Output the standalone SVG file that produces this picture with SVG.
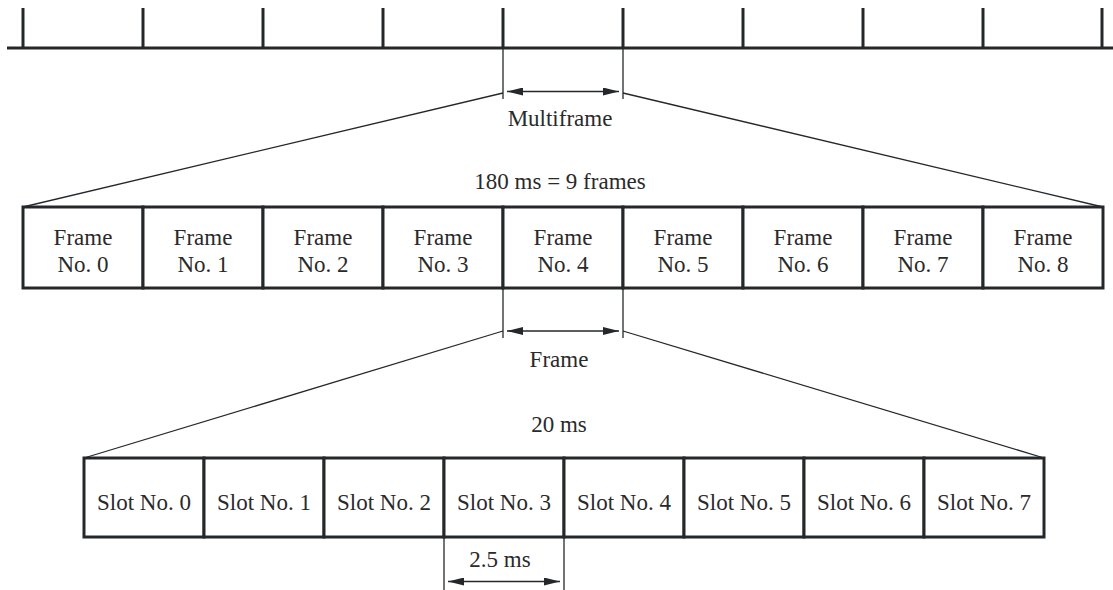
<svg xmlns="http://www.w3.org/2000/svg" width="1113" height="590" viewBox="0 0 1113 590">
<defs>
<marker id="ah" viewBox="0 0 16 8" refX="16" refY="4" markerWidth="16" markerHeight="8" markerUnits="userSpaceOnUse" orient="auto-start-reverse">
<path d="M0,0 L16,4 L0,8 Z" fill="#25282b"/>
</marker>
<style>
.thick{stroke:#25282b;stroke-width:3;fill:none}
.box{stroke:#25282b;stroke-width:3;fill:#fff}
.thin{stroke:#25282b;stroke-width:1.3;fill:none}
.dim{stroke:#25282b;stroke-width:1.3;fill:none;marker-start:url(#ah);marker-end:url(#ah)}
text{font-family:"Liberation Serif","Times New Roman",serif;font-size:23px;fill:#2a2a2a;text-anchor:middle}
</style>
</defs>
<rect width="1113" height="590" fill="#fff"/>
<g id="timeline">
<line class="thick" x1="7" y1="48" x2="1113" y2="48"/>
<path class="thick" d="M23,8V48M143,8V48M263,8V48M383,8V48M503,8V48M623,8V48M743,8V48M863,8V48M983,8V48M1102,8V48"/>
</g>
<g id="connectors">
<line class="thin" x1="503" y1="48" x2="503" y2="99"/>
<line class="thin" x1="623" y1="48" x2="623" y2="99"/>
<line class="dim" x1="507" y1="91.5" x2="619" y2="91.5"/>
<line class="thin" x1="503" y1="93" x2="23" y2="207"/>
<line class="thin" x1="623" y1="93" x2="1103" y2="207"/>
<line class="thin" x1="503" y1="288" x2="503" y2="338"/>
<line class="thin" x1="623" y1="288" x2="623" y2="338"/>
<line class="dim" x1="507" y1="331" x2="619" y2="331"/>
<line class="thin" x1="503" y1="331" x2="84" y2="458"/>
<line class="thin" x1="623" y1="331" x2="1044" y2="458"/>
<line class="thin" x1="444" y1="537" x2="444" y2="590"/>
<line class="thin" x1="564" y1="537" x2="564" y2="590"/>
<line class="dim" x1="448" y1="581.5" x2="560" y2="581.5"/>
</g>
<g id="labels">
<text x="560" y="126">Multiframe</text>
<text x="560" y="189">180 ms = 9 frames</text>
<text x="559" y="367">Frame</text>
<text x="559" y="432">20 ms</text>
<text x="500" y="567">2.5 ms</text>
</g>
<g id="frame0"><rect class="box" x="23" y="207" width="120" height="81"/><text x="83" y="245">Frame</text><text x="83" y="272">No. 0</text></g>
<g id="frame1"><rect class="box" x="143" y="207" width="120" height="81"/><text x="203" y="245">Frame</text><text x="203" y="272">No. 1</text></g>
<g id="frame2"><rect class="box" x="263" y="207" width="120" height="81"/><text x="323" y="245">Frame</text><text x="323" y="272">No. 2</text></g>
<g id="frame3"><rect class="box" x="383" y="207" width="120" height="81"/><text x="443" y="245">Frame</text><text x="443" y="272">No. 3</text></g>
<g id="frame4"><rect class="box" x="503" y="207" width="120" height="81"/><text x="563" y="245">Frame</text><text x="563" y="272">No. 4</text></g>
<g id="frame5"><rect class="box" x="623" y="207" width="120" height="81"/><text x="683" y="245">Frame</text><text x="683" y="272">No. 5</text></g>
<g id="frame6"><rect class="box" x="743" y="207" width="120" height="81"/><text x="803" y="245">Frame</text><text x="803" y="272">No. 6</text></g>
<g id="frame7"><rect class="box" x="863" y="207" width="120" height="81"/><text x="923" y="245">Frame</text><text x="923" y="272">No. 7</text></g>
<g id="frame8"><rect class="box" x="983" y="207" width="120" height="81"/><text x="1043" y="245">Frame</text><text x="1043" y="272">No. 8</text></g>
<g id="slot0"><rect class="box" x="84" y="458" width="120" height="79"/><text x="144" y="510">Slot No. 0</text></g>
<g id="slot1"><rect class="box" x="204" y="458" width="120" height="79"/><text x="264" y="510">Slot No. 1</text></g>
<g id="slot2"><rect class="box" x="324" y="458" width="120" height="79"/><text x="384" y="510">Slot No. 2</text></g>
<g id="slot3"><rect class="box" x="444" y="458" width="120" height="79"/><text x="504" y="510">Slot No. 3</text></g>
<g id="slot4"><rect class="box" x="564" y="458" width="120" height="79"/><text x="624" y="510">Slot No. 4</text></g>
<g id="slot5"><rect class="box" x="684" y="458" width="120" height="79"/><text x="744" y="510">Slot No. 5</text></g>
<g id="slot6"><rect class="box" x="804" y="458" width="120" height="79"/><text x="864" y="510">Slot No. 6</text></g>
<g id="slot7"><rect class="box" x="924" y="458" width="120" height="79"/><text x="984" y="510">Slot No. 7</text></g>
</svg>
